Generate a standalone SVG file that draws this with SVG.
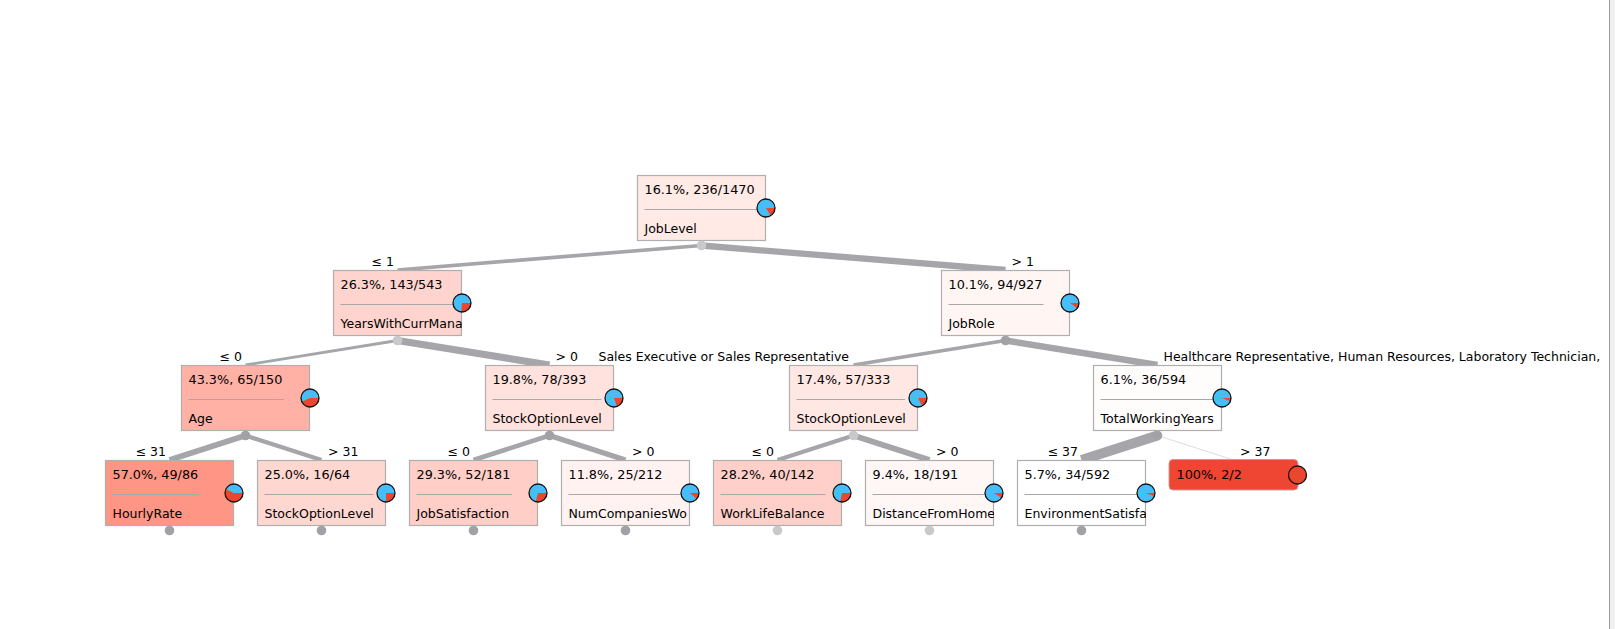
<svg xmlns="http://www.w3.org/2000/svg" width="1615" height="629" viewBox="0 0 1615 629">
<style>
text{font-family:"DejaVu Sans","Verdana",sans-serif;font-size:12.5px;fill:#000}
.num{font-size:12.8px}
.box{stroke:#afafaf;stroke-width:1.2}
.sep{stroke:#a8a8a8;stroke-width:1}
.pb{fill:#46befa}
.pr{fill:#ed462f}
.po{fill:none;stroke:#111;stroke-width:1.3}
.dd{fill:#a2a2a6}
.dl{fill:#c9c9cc}
.e{stroke:#a5a5aa;fill:none;stroke-linecap:butt}
</style>
<defs>
<clipPath id="c2"><rect x="333" y="270" width="129" height="66"/></clipPath>
<clipPath id="c11"><rect x="561" y="460" width="129" height="66"/></clipPath>
<clipPath id="c13"><rect x="865" y="460" width="129" height="66"/></clipPath>
<clipPath id="c14"><rect x="1017" y="460" width="129" height="66"/></clipPath>
<clipPath id="cv"><rect x="0" y="0" width="1609" height="629"/></clipPath>
</defs>
<rect x="0" y="0" width="1615" height="629" fill="#ffffff"/>
<rect x="1610" y="0" width="5" height="629" fill="#f0f0f0"/>
<line x1="1609.5" y1="0" x2="1609.5" y2="629" stroke="#9a9a9e" stroke-width="1"/>

<g id="connectors">
<line class="e" x1="701.5" y1="245.5" x2="397.5" y2="270" stroke-width="3.7"/>
<line class="e" x1="701.5" y1="245.5" x2="1005.5" y2="270" stroke-width="6.3"/>
<line class="e" x1="397.5" y1="340.5" x2="245.5" y2="365" stroke-width="2.8"/>
<line class="e" x1="397.5" y1="340.5" x2="549.5" y2="365" stroke-width="7.2"/>
<line class="e" x1="1005.5" y1="340.5" x2="853.5" y2="365" stroke-width="3.6"/>
<line class="e" x1="1005.5" y1="340.5" x2="1157.5" y2="365" stroke-width="6.4"/>
<line class="e" x1="245.5" y1="435.5" x2="169.5" y2="460" stroke-width="5.7"/>
<line class="e" x1="245.5" y1="435.5" x2="321.5" y2="460" stroke-width="4.3"/>
<line class="e" x1="549.5" y1="435.5" x2="473.5" y2="460" stroke-width="4.6"/>
<line class="e" x1="549.5" y1="435.5" x2="625.5" y2="460" stroke-width="5.4"/>
<line class="e" x1="853.5" y1="435.5" x2="777.5" y2="460" stroke-width="4.3"/>
<line class="e" x1="853.5" y1="435.5" x2="929.5" y2="460" stroke-width="5.7"/>
<line class="e" x1="1157.5" y1="435.5" x2="1081.5" y2="460" stroke-width="9.9"/>
<line x1="1157.5" y1="435.5" x2="1233.5" y2="460" stroke="#d8d8d8" stroke-width="0.9"/>
<text x="394" y="265.5" text-anchor="end">≤ 1</text>
<text x="1011.5" y="265.5">&gt; 1</text>
<text x="242" y="360.5" text-anchor="end">≤ 0</text>
<text x="555.5" y="360.5">&gt; 0</text>
<text x="849" y="360.5" text-anchor="end">Sales Executive or Sales Representative</text>
<text x="1163.5" y="360.5" clip-path="url(#cv)">Healthcare Representative, Human Resources, Laboratory Technician,</text>
<text x="166" y="455.5" text-anchor="end">≤ 31</text>
<text x="328" y="455.5">&gt; 31</text>
<text x="470" y="455.5" text-anchor="end">≤ 0</text>
<text x="632" y="455.5">&gt; 0</text>
<text x="774" y="455.5" text-anchor="end">≤ 0</text>
<text x="936" y="455.5">&gt; 0</text>
<text x="1078" y="455.5" text-anchor="end">≤ 37</text>
<text x="1240" y="455.5">&gt; 37</text>
</g>

<g id="n1">
<rect class="box" x="637.5" y="175.5" width="128" height="65" fill="#ffeae6"/>
<text class="num" x="644.5" y="194">16.1%, 236/1470</text>
<line class="sep" x1="644.5" y1="209.5" x2="757" y2="209.5"/>
<text x="644.5" y="232.5">JobLevel</text>
<circle class="pb" cx="766" cy="208" r="9"/>
<path class="pr" d="M766 208 L775 208 A9 9 0 0 1 770.779 215.627 Z"/>
<circle class="po" cx="766" cy="208" r="9"/>
<circle class="dl" cx="701.5" cy="245.5" r="4.8"/>
</g>

<g id="n2">
<rect class="box" x="333.5" y="270.5" width="128" height="65" fill="#ffd4ce"/>
<text class="num" x="340.5" y="289">26.3%, 143/543</text>
<line class="sep" x1="340.5" y1="304.5" x2="453" y2="304.5"/>
<text x="340.5" y="327.5" clip-path="url(#c2)">YearsWithCurrMana</text>
<circle class="pb" cx="462" cy="303" r="9"/>
<path class="pr" d="M462 303 L471 303 A9 9 0 0 1 461.266 311.970 Z"/>
<circle class="po" cx="462" cy="303" r="9"/>
<circle class="dl" cx="397.5" cy="340.5" r="4.8"/>
</g>

<g id="n3">
<rect class="box" x="941.5" y="270.5" width="128" height="65" fill="#fff6f4"/>
<text class="num" x="948.5" y="289">10.1%, 94/927</text>
<line class="sep" x1="948.5" y1="304.5" x2="1043.5" y2="304.5"/>
<text x="948.5" y="327.5">JobRole</text>
<circle class="pb" cx="1070" cy="303" r="9"/>
<path class="pr" d="M1070 303 L1079 303 A9 9 0 0 1 1077.248 308.336 Z"/>
<circle class="po" cx="1070" cy="303" r="9"/>
<circle class="dd" cx="1005.5" cy="340.5" r="4.8"/>
</g>

<g id="n4">
<rect class="box" x="181.5" y="365.5" width="128" height="65" fill="#ffb1a5"/>
<text class="num" x="188.5" y="384">43.3%, 65/150</text>
<line class="sep" x1="188.5" y1="399.5" x2="284" y2="399.5"/>
<text x="188.5" y="422.5">Age</text>
<circle class="pb" cx="310" cy="398" r="9"/>
<path class="pr" d="M310 398 L319 398 A9 9 0 0 1 301.786 401.677 Z"/>
<circle class="po" cx="310" cy="398" r="9"/>
<circle class="dd" cx="245.5" cy="435.5" r="4.8"/>
</g>

<g id="n5">
<rect class="box" x="485.5" y="365.5" width="128" height="65" fill="#ffe2dd"/>
<text class="num" x="492.5" y="384">19.8%, 78/393</text>
<line class="sep" x1="492.5" y1="399.5" x2="601.5" y2="399.5"/>
<text x="492.5" y="422.5">StockOptionLevel</text>
<circle class="pb" cx="614" cy="398" r="9"/>
<path class="pr" d="M614 398 L623 398 A9 9 0 0 1 616.889 406.524 Z"/>
<circle class="po" cx="614" cy="398" r="9"/>
<circle class="dd" cx="549.5" cy="435.5" r="4.8"/>
</g>

<g id="n6">
<rect class="box" x="789.5" y="365.5" width="128" height="65" fill="#ffe7e3"/>
<text class="num" x="796.5" y="384">17.4%, 57/333</text>
<line class="sep" x1="796.5" y1="399.5" x2="905" y2="399.5"/>
<text x="796.5" y="422.5">StockOptionLevel</text>
<circle class="pb" cx="918" cy="398" r="9"/>
<path class="pr" d="M918 398 L927 398 A9 9 0 0 1 922.137 405.993 Z"/>
<circle class="po" cx="918" cy="398" r="9"/>
<circle class="dl" cx="853.5" cy="435.5" r="4.8"/>
</g>

<g id="n7">
<rect class="box" x="1093.5" y="365.5" width="128" height="65" fill="#fffcfc"/>
<text class="num" x="1100.5" y="384">6.1%, 36/594</text>
<line class="sep" x1="1100.5" y1="399.5" x2="1213" y2="399.5"/>
<text x="1100.5" y="422.5">TotalWorkingYears</text>
<circle class="pb" cx="1222" cy="398" r="9"/>
<path class="pr" d="M1222 398 L1231 398 A9 9 0 0 1 1230.347 401.366 Z"/>
<circle class="po" cx="1222" cy="398" r="9"/>
<circle class="dd" cx="1157.5" cy="435.5" r="4.8"/>
</g>

<g id="n8">
<rect class="box" x="105.5" y="460.5" width="128" height="65" fill="#ff9584"/>
<text class="num" x="112.5" y="479">57.0%, 49/86</text>
<line class="sep" x1="112.5" y1="494.5" x2="199.5" y2="494.5"/>
<text x="112.5" y="517.5">HourlyRate</text>
<circle class="pb" cx="234" cy="493" r="9"/>
<path class="pr" d="M234 493 L243 493 A9 9 0 1 1 225.857 489.168 Z"/>
<circle class="po" cx="234" cy="493" r="9"/>
<circle class="dd" cx="169.5" cy="530.5" r="4.8"/>
</g>

<g id="n9">
<rect class="box" x="257.5" y="460.5" width="128" height="65" fill="#ffd7d1"/>
<text class="num" x="264.5" y="479">25.0%, 16/64</text>
<line class="sep" x1="264.5" y1="494.5" x2="373.5" y2="494.5"/>
<text x="264.5" y="517.5">StockOptionLevel</text>
<circle class="pb" cx="386" cy="493" r="9"/>
<path class="pr" d="M386 493 L395 493 A9 9 0 0 1 386 502 Z"/>
<circle class="po" cx="386" cy="493" r="9"/>
<circle class="dd" cx="321.5" cy="530.5" r="4.8"/>
</g>

<g id="n10">
<rect class="box" x="409.5" y="460.5" width="128" height="65" fill="#ffcec6"/>
<text class="num" x="416.5" y="479">29.3%, 52/181</text>
<line class="sep" x1="416.5" y1="494.5" x2="512" y2="494.5"/>
<text x="416.5" y="517.5">JobSatisfaction</text>
<circle class="pb" cx="538" cy="493" r="9"/>
<path class="pr" d="M538 493 L547 493 A9 9 0 0 1 535.598 501.673 Z"/>
<circle class="po" cx="538" cy="493" r="9"/>
<circle class="dd" cx="473.5" cy="530.5" r="4.8"/>
</g>

<g id="n11">
<rect class="box" x="561.5" y="460.5" width="128" height="65" fill="#fff2f0"/>
<text class="num" x="568.5" y="479">11.8%, 25/212</text>
<line class="sep" x1="568.5" y1="494.5" x2="681" y2="494.5"/>
<text x="568.5" y="517.5" clip-path="url(#c11)">NumCompaniesWo</text>
<circle class="pb" cx="690" cy="493" r="9"/>
<path class="pr" d="M690 493 L699 493 A9 9 0 0 1 696.639 499.076 Z"/>
<circle class="po" cx="690" cy="493" r="9"/>
<circle class="dd" cx="625.5" cy="530.5" r="4.8"/>
</g>

<g id="n12">
<rect class="box" x="713.5" y="460.5" width="128" height="65" fill="#ffd0c9"/>
<text class="num" x="720.5" y="479">28.2%, 40/142</text>
<line class="sep" x1="720.5" y1="494.5" x2="825.5" y2="494.5"/>
<text x="720.5" y="517.5">WorkLifeBalance</text>
<circle class="pb" cx="842" cy="493" r="9"/>
<path class="pr" d="M842 493 L851 493 A9 9 0 0 1 840.203 501.819 Z"/>
<circle class="po" cx="842" cy="493" r="9"/>
<circle class="dl" cx="777.5" cy="530.5" r="4.8"/>
</g>

<g id="n13">
<rect class="box" x="865.5" y="460.5" width="128" height="65" fill="#fff7f6"/>
<text class="num" x="872.5" y="479">9.4%, 18/191</text>
<line class="sep" x1="872.5" y1="494.5" x2="985" y2="494.5"/>
<text x="872.5" y="517.5" clip-path="url(#c13)">DistanceFromHome</text>
<circle class="pb" cx="994" cy="493" r="9"/>
<path class="pr" d="M994 493 L1003 493 A9 9 0 0 1 1001.475 498.012 Z"/>
<circle class="po" cx="994" cy="493" r="9"/>
<circle class="dl" cx="929.5" cy="530.5" r="4.8"/>
</g>

<g id="n14">
<rect class="box" x="1017.5" y="460.5" width="128" height="65" fill="#ffffff"/>
<text class="num" x="1024.5" y="479">5.7%, 34/592</text>
<line class="sep" x1="1024.5" y1="494.5" x2="1137" y2="494.5"/>
<text x="1024.5" y="517.5" clip-path="url(#c14)">EnvironmentSatisfa</text>
<circle class="pb" cx="1146" cy="493" r="9"/>
<path class="pr" d="M1146 493 L1155 493 A9 9 0 0 1 1154.429 496.155 Z"/>
<circle class="po" cx="1146" cy="493" r="9"/>
<circle class="dd" cx="1081.5" cy="530.5" r="4.8"/>
</g>

<g id="n15">
<rect x="1169" y="459.5" width="129" height="30.5" rx="4" fill="#ee4632" stroke="#c0a09c" stroke-width="1"/>
<text class="num" x="1176.5" y="479">100%, 2/2</text>
<circle class="pr" cx="1297.5" cy="475" r="9"/>
<circle class="po" cx="1297.5" cy="475" r="9"/>
</g>
</svg>
